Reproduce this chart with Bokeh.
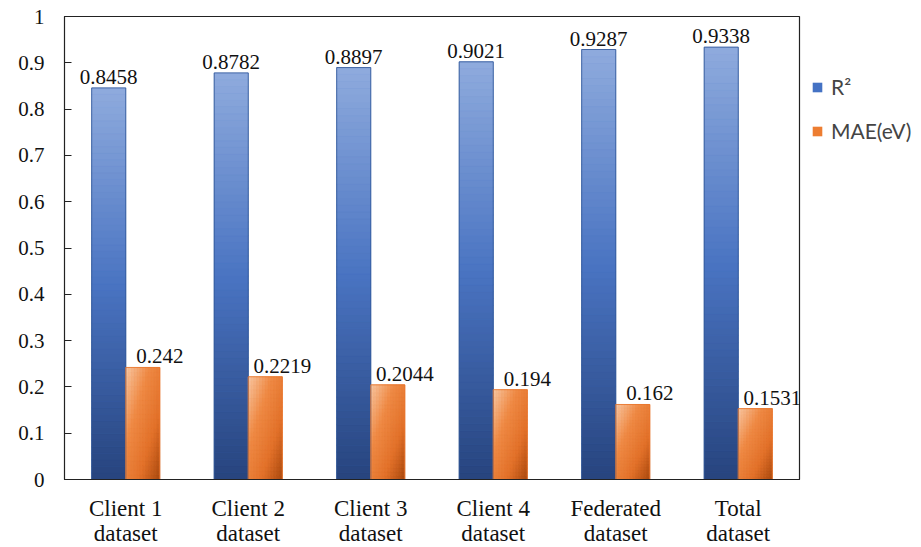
import numpy as np
from bokeh.plotting import figure
from bokeh.models import Range1d, FixedTicker, Legend, LegendItem
from bokeh.core.properties import value
from bokeh.embed import file_html
from bokeh.resources import INLINE

categories = ["Client 1\ndataset", "Client 2\ndataset", "Client 3\ndataset",
              "Client 4\ndataset", "Federated\ndataset", "Total\ndataset"]
r2 = [0.8458, 0.8782, 0.8897, 0.9021, 0.9287, 0.9338]
mae = [0.242, 0.2219, 0.2044, 0.194, 0.162, 0.1531]
r2_labels = ["0.8458", "0.8782", "0.8897", "0.9021", "0.9287", "0.9338"]
mae_labels = ["0.242", "0.2219", "0.2044", "0.194", "0.162", "0.1531"]
y_ticks = [0, 0.1, 0.2, 0.3, 0.4, 0.5, 0.6, 0.7, 0.8, 0.9, 1]
y_tick_labels = ["0", "0.1", "0.2", "0.3", "0.4", "0.5", "0.6", "0.7", "0.8", "0.9", "1"]

BW = 0.278  # bar width in category units
centers = [i + 0.5 for i in range(len(categories))]


def hex2rgb(h):
    h = h.lstrip("#")
    return np.array([int(h[i:i + 2], 16) for i in (0, 2, 4)], dtype=float)


def interp(stops, t):
    for (p0, c0), (p1, c1) in zip(stops[:-1], stops[1:]):
        if t <= p1:
            f = (t - p0) / (p1 - p0) if p1 > p0 else 0
            c = hex2rgb(c0) * (1 - f) + hex2rgb(c1) * f
            return "#%02x%02x%02x" % tuple(int(round(v)) for v in c)
    return stops[-1][1]


blue_stops = [(0.0, "#8fabdd"), (0.5, "#4a74c2"), (1.0, "#27447e")]
orange_stops = [(0.0, "#f8c7a3"), (0.35, "#ef8a45"), (0.7, "#e2712a"), (1.0, "#a9490f")]

p = figure(frame_width=735, frame_height=463, output_backend="svg", toolbar_location=None,
           x_range=Range1d(0, len(categories)), y_range=Range1d(0, 1),
           min_border_left=64, min_border_right=0, min_border_top=16,
           min_border_bottom=68)
p.background_fill_color = "white"
p.border_fill_color = "white"
p.outline_line_color = "#222222"
p.outline_line_width = 1.2
p.xgrid.visible = False
p.ygrid.visible = False

# base solid bars (also used by legend)
blue_base = p.vbar(x=[c - BW / 2 for c in centers], top=r2, width=BW, bottom=0,
                   fill_color="#4472c4", line_color=None)
orange_base = p.vbar(x=[c + BW / 2 for c in centers], top=mae, width=BW, bottom=0,
                     fill_color="#ed7d31", line_color=None)

# blue gradient: horizontal bands (light top -> dark bottom)
NB = 60
bl, br, bb, bt, bc = [], [], [], [], []
for c, v in zip(centers, r2):
    for k in range(NB):
        t = 1 - (k + 0.5) / NB
        bl.append(c - BW); br.append(c)
        bb.append(v * k / NB); bt.append(v * (k + 1) / NB)
        bc.append(interp(blue_stops, t))
p.quad(left=bl, right=br, bottom=bb, top=bt, fill_color=bc, line_color=bc, line_width=0.6)

# orange gradient: diagonal (light top-left -> dark bottom-right)
NX, NY = 12, 24
ol, orr, ob, ot, oc = [], [], [], [], []
for c, v in zip(centers, mae):
    for i in range(NX):
        for k in range(NY):
            u = (i + 0.5) / NX
            w = (k + 0.5) / NY
            t = (u + (1 - w)) / 2
            ol.append(c + BW * i / NX); orr.append(c + BW * (i + 1) / NX)
            ob.append(v * k / NY); ot.append(v * (k + 1) / NY)
            oc.append(interp(orange_stops, t))
p.quad(left=ol, right=orr, bottom=ob, top=ot, fill_color=oc, line_color=oc, line_width=0.6)

# outlines
p.vbar(x=[c - BW / 2 for c in centers], top=r2, width=BW, bottom=0,
       fill_color=None, line_color="#2f5597", line_width=0.8)
p.vbar(x=[c + BW / 2 for c in centers], top=mae, width=BW, bottom=0,
       fill_color=None, line_color="#e8742a", line_width=0.8)

# value labels
p.text(x=[c - BW / 2 for c in centers], y=r2, text=r2_labels,
       text_font=value("Liberation Serif"), text_font_size="21px",
       text_align="center", text_baseline="bottom", y_offset=-4, text_color="#111111")
p.text(x=[c + BW / 2 for c in centers], y=mae, text=mae_labels,
       text_font=value("Liberation Serif"), text_font_size="21px",
       text_align="center", text_baseline="bottom", x_offset=17, y_offset=-4,
       text_color="#111111")

# axes
p.xaxis.ticker = FixedTicker(ticks=centers)
p.xaxis.major_label_overrides = {c: lab for c, lab in zip(centers, categories)}
p.xaxis.major_tick_line_color = None
p.xaxis.minor_tick_line_color = None
p.xaxis.axis_line_color = "#222222"
p.xaxis.major_label_text_font = "Liberation Serif"
p.xaxis.major_label_text_font_size = "23px"
p.xaxis.major_label_text_color = "#111111"
p.xaxis.major_label_standoff = 10
p.xaxis.major_label_text_line_height = 1.0

p.yaxis.ticker = FixedTicker(ticks=y_ticks)
p.yaxis.major_label_overrides = {t: lab for t, lab in zip(y_ticks, y_tick_labels)}
p.yaxis.major_tick_in = 7
p.yaxis.major_tick_out = 0
p.yaxis.minor_tick_line_color = None
p.yaxis.axis_line_color = "#222222"
p.yaxis.major_tick_line_color = "#222222"
p.yaxis.major_label_text_font = "Liberation Serif"
p.yaxis.major_label_text_font_size = "21px"
p.yaxis.major_label_text_color = "#111111"
p.yaxis.major_label_standoff = 20

legend = Legend(items=[LegendItem(label="R²", renderers=[blue_base]),
                       LegendItem(label="MAE(eV)", renderers=[orange_base])],
                location="top_left", orientation="vertical",
                title=" ", title_text_font_size="20px", title_standoff=23,
                glyph_width=12, glyph_height=12, label_text_font="Lato",
                label_text_font_size="21px", label_standoff=8, spacing=19,
                border_line_color=None, background_fill_alpha=0,
                padding=4, margin=12)
p.add_layout(legend, "right")

open("out.html", "w").write(file_html(p, INLINE))
